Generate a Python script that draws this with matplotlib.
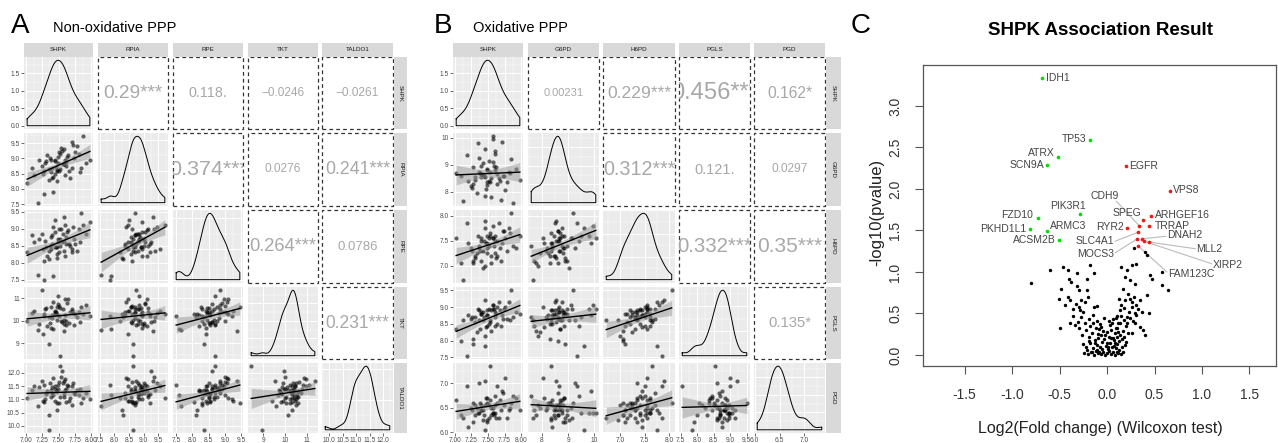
import numpy as np
import matplotlib
matplotlib.use('Agg')
import matplotlib.pyplot as plt
from matplotlib.patches import Rectangle
from matplotlib.ticker import MaxNLocator

plt.rcParams['font.family'] = ['Liberation Sans', 'DejaVu Sans']

# ---------------- data: expression values per gene (samples) ----------------
SHPK = [7.02, 7.25, 7.18, 7.31, 7.12, 7.28, 7.20, 7.35, 7.09, 7.26,
        7.30, 7.42, 7.36, 7.28, 7.45, 7.39, 7.33, 7.48, 7.40, 7.37,
        7.40, 7.53, 7.44, 7.58, 7.47, 7.38, 7.51, 7.55, 7.46, 7.49,
        7.45, 7.60, 7.49, 7.53, 7.42, 7.57, 7.51, 7.62, 7.48, 7.54,
        7.60, 7.66, 7.58, 7.70, 7.63, 7.68, 7.61, 7.72, 7.59, 7.64,
        7.74, 7.85, 7.79, 7.92, 7.76, 7.83, 7.71, 7.98, 7.81, 7.88]
RPIA = [8.20, 8.75, 7.55, 8.90, 8.45, 8.60, 8.95, 8.30, 8.70, 8.48,
        8.85, 8.40, 8.65, 7.85, 8.95, 8.55, 9.10, 8.62, 8.35, 9.00,
        8.70, 9.15, 8.50, 8.80, 8.25, 8.95, 8.60, 9.25, 8.72, 8.85,
        8.90, 8.45, 9.05, 8.65, 7.90, 8.80, 9.20, 8.75, 8.58, 9.35,
        8.95, 8.60, 9.30, 8.70, 9.05, 8.35, 8.88, 9.45, 8.80, 9.10,
        9.00, 8.70, 9.40, 8.85, 9.20, 8.55, 9.55, 8.95, 9.15, 9.72]
RPE = [8.30, 8.85, 7.65, 8.45, 8.60, 8.05, 8.70, 8.10, 8.80, 8.40,
       8.65, 9.05, 8.35, 7.50, 8.90, 8.75, 8.20, 8.45, 8.55, 8.50,
       8.80, 8.50, 9.25, 8.35, 8.15, 8.40, 9.00, 8.60, 8.45, 8.70,
       8.45, 9.10, 8.60, 8.70, 7.60, 8.85, 8.30, 8.55, 8.25, 9.00,
       8.20, 8.55, 9.35, 8.30, 8.90, 8.50, 8.75, 9.05, 8.65, 8.95,
       8.70, 9.45, 8.35, 8.85, 8.55, 8.60, 8.40, 9.20, 9.00, 9.10]
TKT = [10.00, 11.35, 9.60, 10.55, 10.45, 10.30, 9.85, 10.15, 10.35, 9.40,
       10.50, 10.85, 8.95, 10.20, 10.40, 10.60, 9.75, 10.05, 10.25, 9.90,
       10.10, 10.55, 10.45, 9.85, 10.30, 9.70, 10.65, 9.95, 10.40, 11.10,
       10.30, 10.95, 10.75, 8.45, 9.65, 10.50, 10.20, 9.80, 10.60, 10.00,
       10.25, 9.90, 9.55, 10.50, 10.80, 10.40, 10.00, 10.35, 10.05, 10.95,
       9.80, 10.60, 10.15, 10.70, 10.30, 9.95, 10.45, 10.20, 10.40, 10.30]
TALDO1 = [11.05, 11.70, 10.75, 11.20, 11.50, 10.90, 11.45, 10.40, 11.35, 10.95,
          11.00, 11.80, 9.85, 11.55, 11.40, 11.10, 11.30, 10.85, 11.25, 11.60,
          11.45, 11.10, 10.95, 11.20, 10.60, 11.35, 11.65, 12.05, 11.30, 11.55,
          11.50, 11.75, 11.40, 12.25, 11.15, 11.60, 10.85, 10.90, 11.30, 11.85,
          11.35, 10.95, 11.70, 10.80, 11.55, 11.05, 11.40, 11.60, 11.10, 11.50,
          11.25, 10.85, 11.35, 11.25, 11.20, 11.40, 11.50, 11.00, 11.15, 11.05]
G6PD = [8.70, 8.20, 9.35, 8.55, 7.65, 8.90, 8.40, 9.80, 8.60, 8.15,
        8.45, 9.05, 8.75, 8.30, 9.60, 8.55, 7.95, 8.85, 8.65, 9.25,
        8.95, 8.35, 8.60, 9.95, 8.10, 8.70, 9.15, 8.50, 7.85, 8.80,
        8.55, 9.40, 8.25, 8.75, 8.65, 10.05, 8.40, 8.90, 8.35, 7.80,
        8.80, 8.50, 9.10, 7.70, 8.65, 8.40, 9.50, 8.60, 8.95, 8.30,
        8.60, 9.20, 8.35, 8.85, 8.05, 8.70, 9.85, 8.45, 8.75, 7.60]
H6PD = [7.55, 7.35, 7.85, 7.15, 6.72, 7.10, 7.45, 7.60, 7.05, 7.30,
        7.20, 6.95, 7.40, 7.05, 7.75, 7.50, 7.25, 7.60, 7.55, 7.35,
        7.10, 7.65, 7.50, 7.80, 7.45, 7.30, 7.55, 7.20, 7.00, 7.35,
        7.90, 7.50, 7.25, 7.60, 7.30, 7.55, 7.40, 7.15, 7.45, 7.05,
        7.25, 7.85, 7.55, 7.10, 7.50, 7.35, 7.60, 7.70, 7.40, 7.20,
        7.70, 8.05, 7.30, 7.35, 7.55, 7.65, 7.45, 7.60, 7.75, 7.40]
PGLS = [8.35, 8.65, 7.55, 8.55, 8.60, 7.90, 8.75, 8.95, 8.00, 8.70,
        8.70, 8.60, 8.90, 8.05, 7.85, 8.80, 8.25, 8.45, 8.85, 8.60,
        8.80, 8.55, 8.70, 9.05, 8.40, 8.35, 8.95, 8.90, 8.15, 8.75,
        9.20, 8.45, 8.75, 8.60, 8.85, 8.95, 8.50, 8.80, 8.90, 8.30,
        8.85, 9.15, 9.05, 8.45, 9.00, 8.90, 8.70, 8.65, 8.95, 8.50,
        8.95, 9.50, 8.65, 8.85, 9.00, 8.60, 8.75, 8.80, 9.15, 8.70]
PGD = [6.65, 6.50, 6.95, 6.55, 6.30, 6.20, 6.10, 6.40, 6.35, 6.45,
       6.35, 6.25, 6.40, 6.60, 6.05, 6.45, 6.50, 6.70, 6.55, 7.00,
       6.45, 7.35, 6.35, 6.40, 6.70, 6.60, 6.30, 6.50, 6.55, 6.20,
       7.05, 6.75, 6.60, 6.65, 6.45, 6.40, 6.55, 6.30, 6.25, 6.35,
       6.55, 6.30, 6.50, 6.45, 6.95, 6.65, 6.40, 6.80, 6.35, 6.60,
       6.55, 6.60, 6.30, 6.70, 7.10, 6.50, 6.85, 6.45, 6.45, 6.75]

A_genes = ['SHPK', 'RPIA', 'RPE', 'TKT', 'TALDO1']
B_genes = ['SHPK', 'G6PD', 'H6PD', 'PGLS', 'PGD']

# correlation labels of the upper panels (row-major)
A_cor = ['0.29***', '0.118.', '-0.0246', '-0.0261',
         '0.374***', '0.0276', '0.241***',
         '0.264***', '0.0786',
         '0.231***']
B_cor = ['0.00231', '0.229***', '0.456***', '0.162*',
         '0.312***', '0.121.', '0.0297',
         '0.332***', '0.35***',
         '0.135*']

tick_vals = {
    'SHPK': [7.0, 7.25, 7.5, 7.75, 8.0],
    'RPIA': [7.5, 8.0, 8.5, 9.0, 9.5],
    'RPE': [7.5, 8.0, 8.5, 9.0, 9.5],
    'TKT': [9, 10, 11],
    'TALDO1': [10.0, 10.5, 11.0, 11.5, 12.0],
    'G6PD': [8, 9, 10],
    'H6PD': [7.0, 7.5, 8.0],
    'PGLS': [7.5, 8.0, 8.5, 9.0, 9.5],
    'PGD': [6.0, 6.5, 7.0],
}
tick_text = {
    'SHPK': ['7.00', '7.25', '7.50', '7.75', '8.00'],
    'RPIA': ['7.5', '8.0', '8.5', '9.0', '9.5'],
    'RPE': ['7.5', '8.0', '8.5', '9.0', '9.5'],
    'TKT': ['9', '10', '11'],
    'TALDO1': ['10.0', '10.5', '11.0', '11.5', '12.0'],
    'G6PD': ['8', '9', '10'],
    'H6PD': ['7.0', '7.5', '8.0'],
    'PGLS': ['7.5', '8.0', '8.5', '9.0', '9.5'],
    'PGD': ['6.0', '6.5', '7.0'],
}
density_ticks = [0.0, 0.5, 1.0, 1.5]
density_text = ['0.0', '0.5', '1.0', '1.5']

# ---------------- data: volcano plot ----------------
bg_x = [-0.24, -0.20, -0.17, -0.14, -0.12, -0.10, -0.08, -0.06, -0.04, -0.02, 0.00, 0.02, 0.04, 0.06, 0.08, 0.10, 0.12, 0.15, 0.17,
        -0.22, -0.18, -0.15, -0.11, -0.07, -0.05, -0.01, 0.01, 0.03, 0.05, 0.07, 0.09, 0.11, 0.13, 0.16, 0.19, -0.13, -0.03, 0.00, 0.08,
        -0.26, -0.22, -0.19, -0.16, -0.12, -0.09, -0.04, 0.02, 0.04, 0.08, 0.11, 0.14, 0.17, 0.20, 0.22, -0.29, 0.06, -0.06,
        -0.31, -0.27, -0.23, -0.19, -0.15, -0.11, -0.07, 0.05, 0.09, 0.12, 0.15, 0.18, 0.21, 0.24, 0.27, 0.29, -0.34, -0.36,
        -0.36, -0.33, -0.29, -0.25, -0.23, -0.44, 0.15, 0.18, 0.23, 0.26, 0.30, 0.33, 0.37, 0.13, 0.24,
        -0.80, -0.60, -0.46, -0.41, -0.32, -0.18, -0.21, -0.14, -0.40, -0.38, -0.48, -0.32, -0.30, -0.21, -0.51, -0.41, -0.39, -0.27, -0.20, -0.49, -0.39, -0.28, -0.14, -0.11,
        0.15, 0.21, 0.26, 0.28, 0.31, 0.40, 0.42, 0.45, 0.47, 0.58, 0.58, 0.64, 0.42, 0.44, 0.40, 0.38, 0.19, 0.24, 0.29, 0.17, 0.22, 0.28, 0.19, 0.35, 0.26, 0.31, 0.14, 0.21, 0.29, 0.35, 0.26,
        -0.21, -0.16, -0.13, -0.09, -0.05, -0.02, 0.01, 0.04, 0.07, 0.10, 0.13, 0.16, -0.18, -0.08, 0.03, 0.09, 0.14, -0.25, 0.18, -0.03, 0.00, 0.06, -0.11, 0.12, -0.15, 0.20, -0.06, 0.02, 0.11, -0.19]
bg_y = [0.02, 0.01, 0.03, 0.00, 0.05, 0.02, 0.04, 0.01, 0.03, 0.00, 0.02, 0.05, 0.01, 0.03, 0.00, 0.04, 0.02, 0.01, 0.03,
        0.10, 0.14, 0.08, 0.12, 0.09, 0.16, 0.11, 0.07, 0.15, 0.10, 0.18, 0.08, 0.13, 0.17, 0.09, 0.12, 0.18, 0.19, 0.14, 0.14,
        0.24, 0.30, 0.22, 0.27, 0.32, 0.25, 0.29, 0.22, 0.30, 0.26, 0.33, 0.24, 0.29, 0.35, 0.27, 0.33, 0.21, 0.34,
        0.40, 0.46, 0.38, 0.43, 0.48, 0.41, 0.37, 0.39, 0.44, 0.38, 0.47, 0.42, 0.39, 0.45, 0.41, 0.50, 0.36, 0.47,
        0.55, 0.62, 0.58, 0.52, 0.64, 0.60, 0.60, 0.56, 0.52, 0.64, 0.60, 0.55, 0.52, 0.68, 0.68,
        0.87, 1.02, 1.06, 1.02, 0.99, 1.08, 0.92, 0.99, 0.91, 0.88, 0.79, 0.83, 0.78, 0.78, 0.68, 0.70, 0.66, 0.66, 0.70, 0.32, 0.38, 0.54, 0.58, 0.59,
        1.06, 1.02, 1.08, 1.29, 1.10, 1.24, 1.20, 0.96, 0.92, 1.00, 0.84, 0.78, 0.72, 0.50, 0.24, 0.30, 0.94, 0.90, 0.86, 0.80, 0.74, 0.70, 0.66, 0.66, 0.58, 0.48, 0.54, 0.46, 0.38, 0.34, 0.26,
        0.06, 0.04, 0.15, 0.20, 0.07, 0.24, 0.09, 0.20, 0.11, 0.22, 0.06, 0.19, 0.35, 0.31, 0.36, 0.33, 0.38, 0.13, 0.22, 0.45, 0.28, 0.43, 0.06, 0.28, 0.39, 0.16, 0.24, 0.41, 0.47, 0.17]

green_genes = ['IDH1', 'TP53', 'ATRX', 'SCN9A', 'PIK3R1', 'FZD10', 'PKHD1L1', 'ARMC3', 'ACSM2B']
green_x = [-0.687, -0.179, -0.512, -0.628, -0.284, -0.723, -0.81, -0.635, -0.502]
green_y = [3.34, 2.59, 2.39, 2.29, 1.70, 1.65, 1.52, 1.49, 1.38]

red_genes = ['EGFR', 'VPS8', 'CDH9', 'SPEG', 'ARHGEF16', 'TRRAP', 'RYR2', 'SLC4A1',
             'MOCS3', 'DNAH2', 'MLL2', 'XIRP2', 'FAM123C']
red_x = [0.196, 0.663, 0.337, 0.382, 0.463, 0.44, 0.207, 0.33, 0.319, 0.37, 0.445, 0.39, 0.33]
red_y = [2.28, 1.98, 1.56, 1.63, 1.67, 1.55, 1.53, 1.48, 1.40, 1.40, 1.36, 1.37, 1.31]

vx_ticks = [-1.5, -1.0, -0.5, 0.0, 0.5, 1.0, 1.5]
vy_ticks = [0.0, 0.5, 1.0, 1.5, 2.0, 2.5, 3.0]

# ---------------- layout (label placement in data units, layout only) ----------------
label_place = {
    'IDH1': (-0.64, 3.34, 'left', None), 'TP53': (-0.215, 2.60, 'right', None),
    'ATRX': (-0.545, 2.43, 'right', None), 'SCN9A': (-0.66, 2.29, 'right', None),
    'PIK3R1': (-0.41, 1.80, 'center', None), 'FZD10': (-0.78, 1.69, 'right', None),
    'PKHD1L1': (-0.845, 1.52, 'right', None), 'ARMC3': (-0.595, 1.55, 'left', None),
    'ACSM2B': (-0.535, 1.38, 'right', None),
    'EGFR': (0.235, 2.28, 'left', None), 'VPS8': (0.69, 1.99, 'left', None),
    'CDH9': (-0.02, 1.91, 'center', (0.10, 1.85)), 'SPEG': (0.36, 1.71, 'right', None),
    'ARHGEF16': (0.505, 1.69, 'left', None), 'TRRAP': (0.505, 1.55, 'left', None),
    'RYR2': (0.175, 1.54, 'right', None), 'SLC4A1': (0.075, 1.37, 'right', (0.085, 1.37)),
    'MOCS3': (0.075, 1.22, 'right', (0.085, 1.23)), 'DNAH2': (0.63, 1.45, 'left', (0.62, 1.43)),
    'MLL2': (0.94, 1.28, 'left', (0.93, 1.28)), 'XIRP2': (1.11, 1.08, 'left', (1.10, 1.10)),
    'FAM123C': (0.64, 0.98, 'left', (0.63, 1.00)),
}

W, H = 1278, 443
fig = plt.figure(figsize=(W / 100, H / 100), dpi=100)
expr = {'SHPK': SHPK, 'RPIA': RPIA, 'RPE': RPE, 'TKT': TKT, 'TALDO1': TALDO1,
        'G6PD': G6PD, 'H6PD': H6PD, 'PGLS': PGLS, 'PGD': PGD}


def add_ax(x0, y0, x1, y1):
    return fig.add_axes([x0 / W, 1 - y1 / H, (x1 - x0) / W, (y1 - y0) / H])


def ftext(x, y, s, **kw):
    fig.text(x / W, 1 - y / H, s, **kw)


def kde(v):
    v = np.asarray(v, float)
    n = len(v)
    sd = v.std(ddof=1)
    q75, q25 = np.percentile(v, [75, 25])
    bw = 0.9 * min(sd, (q75 - q25) / 1.34) * n ** -0.2
    g = np.linspace(v.min(), v.max(), 256)
    d = np.exp(-0.5 * ((g[:, None] - v[None, :]) / bw) ** 2).sum(1) / (n * bw * np.sqrt(2 * np.pi))
    return g, d


def lims(v):
    lo, hi = min(v), max(v)
    p = 0.05 * (hi - lo)
    return lo - p, hi + p


def grid(ax, majors, lo, hi, vertical):
    majors = np.asarray(majors, float)
    step = majors[1] - majors[0]
    line = ax.axvline if vertical else ax.axhline
    for k in range(-3, len(majors) + 3):
        m = majors[0] + (k - 0.5) * step
        if lo < m < hi:
            line(m, color='white', lw=0.35, zorder=0)
        M = majors[0] + k * step
        if lo < M < hi:
            line(M, color='white', lw=0.7, zorder=0)


def style_ticks(ax):
    ax.tick_params(axis='both', labelsize=4.8, labelcolor='#4D4D4D', color='#333333',
                   length=2, width=0.5, pad=1)


def pairs(genes, cors, cols, rows, strip_x):
    n = len(genes)
    L = {g: lims(expr[g]) for g in genes}
    k = 0
    for i in range(n):
        for j in range(n):
            ax = add_ax(cols[j][0], rows[i][0], cols[j][1], rows[i][1])
            gx, gy = genes[j], genes[i]
            for s in ax.spines.values():
                s.set_visible(False)
            ax.set_xticks([])
            ax.set_yticks([])
            ax.set_xlim(L[gx])
            if j > i:
                ax.set_facecolor('white')
                ax.set_ylim(0, 1)
                ax.add_patch(Rectangle((0.004, 0.006), 0.992, 0.988, transform=ax.transAxes, fill=False,
                                       ls=(0, (3, 2.5)), lw=0.9, ec='#333333', clip_on=False))
                s = cors[k]
                k += 1
                r = abs(float(s.rstrip('*.')))
                t = ax.text(0.5, 0.5, s.replace('-', '\u2212'), transform=ax.transAxes,
                            ha='center', va='center', fontsize=8 + 20 * r, color='#A8A8A8')
                t.set_clip_on(True)
                continue
            ax.set_facecolor('#EBEBEB')
            grid(ax, tick_vals[gx], L[gx][0], L[gx][1], True)
            if i == j:
                g, d = kde(expr[gx])
                top = d.max()
                ylo, yhi = -0.05 * top, 1.05 * top
                ax.set_ylim(ylo, yhi)
                ymaj = [v for v in MaxNLocator(nbins=4, steps=[1, 2, 2.5, 5, 10]).tick_values(0, top)]
                ax.plot(np.r_[g, g[-1], g[0], g[0]], np.r_[d, 0, 0, d[0]], color='black', lw=0.7, zorder=3)
                grid(ax, ymaj, ylo, yhi, False)
            else:
                ax.set_ylim(L[gy])
                grid(ax, tick_vals[gy], L[gy][0], L[gy][1], False)
                x = np.asarray(expr[gx], float)
                y = np.asarray(expr[gy], float)
                ax.scatter(x, y, s=9, c='black', alpha=0.6, lw=0, zorder=2)
                b, a = np.polyfit(x, y, 1)
                xs = np.linspace(x.min(), x.max(), 80)
                nn = len(x)
                s2 = ((y - (a + b * x)) ** 2).sum() / (nn - 2)
                se = np.sqrt(s2 * (1 / nn + (xs - x.mean()) ** 2 / ((x - x.mean()) ** 2).sum()))
                ax.fill_between(xs, a + b * xs - 2.0 * se, a + b * xs + 2.0 * se,
                                color='#999999', alpha=0.5, lw=0, zorder=3)
                ax.plot(xs, a + b * xs, color='black', lw=1.0, zorder=4)
            if j == 0:
                if i == 0:
                    ax.set_yticks(density_ticks, density_text)
                else:
                    ax.set_yticks(tick_vals[gy], tick_text[gy])
            if i == n - 1:
                ax.set_xticks(tick_vals[gx], tick_text[gx])
            style_ticks(ax)
    # strips
    for j in range(n):
        sa = add_ax(cols[j][0], 43, cols[j][1], 56.5)
        sa.set_facecolor('#D9D9D9')
        sa.set_xticks([]); sa.set_yticks([])
        for s in sa.spines.values():
            s.set_visible(False)
        sa.text(0.5, 0.5, genes[j], transform=sa.transAxes, ha='center', va='center',
                fontsize=4.5, color='#1A1A1A')
    for i in range(n):
        sa = add_ax(strip_x[0], rows[i][0], strip_x[1], rows[i][1])
        sa.set_facecolor('#D9D9D9')
        sa.set_xticks([]); sa.set_yticks([])
        for s in sa.spines.values():
            s.set_visible(False)
        sa.text(0.5, 0.5, genes[i], transform=sa.transAxes, ha='center', va='center',
                fontsize=4.5, color='#1A1A1A', rotation=-90)


rows = [(57, 129), (133, 206), (210, 283), (287, 359), (363, 433)]
A_cols = [(24, 93), (98, 168), (173, 243), (248, 318), (322, 393)]
B_cols = [(453, 523), (528, 599), (603, 675), (679, 750), (754, 825)]

pairs(A_genes, A_cor, A_cols, rows, (394, 407))
pairs(B_genes, B_cor, B_cols, rows, (826, 841))

ftext(11, 33, 'A', fontsize=20, va='baseline', ha='left')
ftext(53, 32, 'Non-oxidative PPP', fontsize=10.5, va='baseline', ha='left')
ftext(434, 33, 'B', fontsize=20, va='baseline', ha='left')
ftext(473, 32, 'Oxidative PPP', fontsize=10.5, va='baseline', ha='left')
ftext(851, 33, 'C', fontsize=20, va='baseline', ha='left')
ftext(1100, 35, 'SHPK Association Result', fontsize=13.5, fontweight='bold',
      va='baseline', ha='center')

# ---------------- volcano ----------------
axc = add_ax(923, 65, 1276, 366)
axc.set_xlim(-1.937, 1.779)
axc.set_ylim(-0.133, 3.494)
axc.scatter(bg_x, bg_y, s=6, c='black', lw=0, zorder=2)
axc.scatter(green_x, green_y, s=7, c='#00E000', lw=0, zorder=3)
axc.scatter(red_x, red_y, s=7, c='#F01818', lw=0, zorder=3)
pts = dict(zip(green_genes + red_genes, zip(green_x + red_x, green_y + red_y)))
for gname, (tx, ty, ha, ls) in label_place.items():
    px, py = pts[gname]
    if ls is not None:
        axc.plot([ls[0], px], [ls[1], py], color='#BBBBBB', lw=0.8, zorder=1)
    axc.text(tx, ty, gname, ha=ha, va='center', fontsize=7.5, color='#444444', zorder=4)
for s in axc.spines.values():
    s.set_color('#555555')
    s.set_linewidth(0.9)
axc.set_xticks(vx_ticks, [('%.1f' % v) for v in vx_ticks])
axc.set_yticks(vy_ticks, [('%.1f' % v) for v in vy_ticks])
axc.tick_params(axis='both', labelsize=10, labelcolor='#333333', color='#555555',
                length=6, width=0.8)
axc.tick_params(axis='x', pad=10)
axc.tick_params(axis='y', pad=9, labelrotation=90)
for lab in axc.get_yticklabels():
    lab.set_va('center')
ftext(1100, 433, 'Log2(Fold change) (Wilcoxon test)', fontsize=11.5, ha='center',
      va='baseline', color='#222222')
ftext(877, 212, '-log10(pvalue)', fontsize=12, ha='center', va='center',
      rotation=90, color='#222222')

fig.savefig('out.png', dpi=100)
